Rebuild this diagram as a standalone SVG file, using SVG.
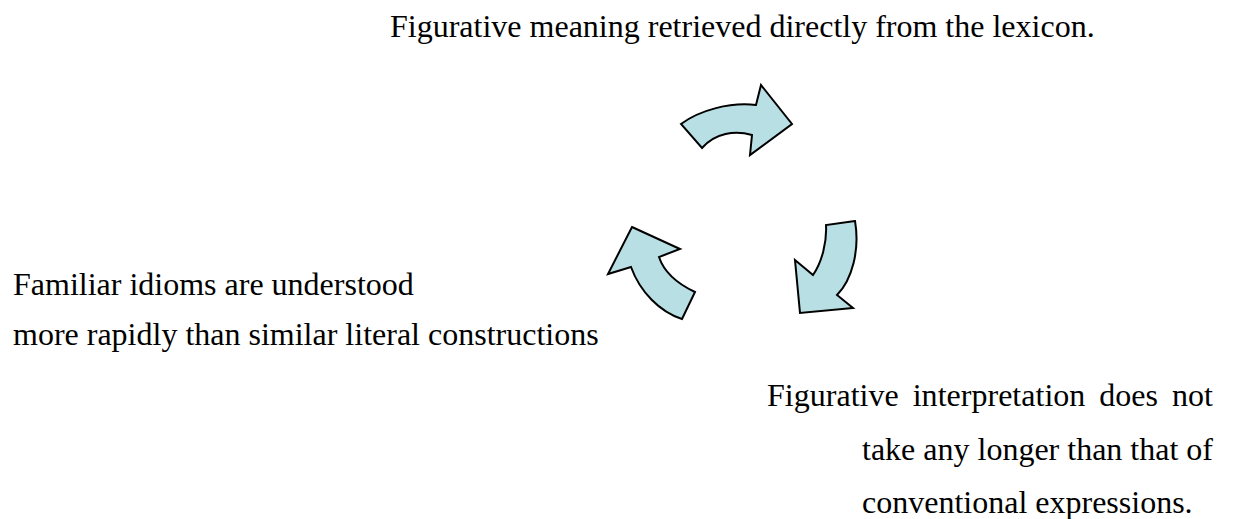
<svg xmlns="http://www.w3.org/2000/svg" width="1234" height="519" viewBox="0 0 1234 519">
  <style>
    .lbl { font-family: "Liberation Serif", "Times New Roman", serif; font-size: 32px; fill: #000; }
    .cyc { fill: #B8DFE3; stroke: #000; stroke-width: 2; stroke-linejoin: miter; }
  </style>
  <rect width="1234" height="519" fill="#fff"/>

  <!-- cycle of curved arrows -->
  <g id="connectors">
    <path class="cyc" d="M681,124 C700,110 730,102 756,105 L761,85 L792,124 L750,155 L752,135 C735,130 715,133 702,148 Z"/>
    <path class="cyc" d="M855,221 L826,225 C827,242 822,262 813,275 L795,260 L800,313 L853,308 L837,295 C852,280 860,250 855,221 Z"/>
    <path class="cyc" d="M632,227 L680,249 L659,257 C664,272 678,284 695,292 L682,319 C660,312 640,292 631,267 L608,274 Z"/>
  </g>

  <g id="node-lexicon">
    <text class="lbl" x="390" y="37">Figurative meaning retrieved directly from the lexicon.</text>
  </g>

  <g id="node-familiar">
    <text class="lbl" x="13" y="295">Familiar idioms are understood</text>
    <text class="lbl" x="13" y="345">more rapidly than similar literal constructions</text>
  </g>

  <g id="node-interpretation">
    <text class="lbl" x="767" y="406" textLength="446" lengthAdjust="spacing" word-spacing="6">Figurative interpretation does not</text>
    <text class="lbl" x="862" y="460">take any longer than that of</text>
    <text class="lbl" x="862" y="513">conventional expressions.</text>
  </g>
</svg>
